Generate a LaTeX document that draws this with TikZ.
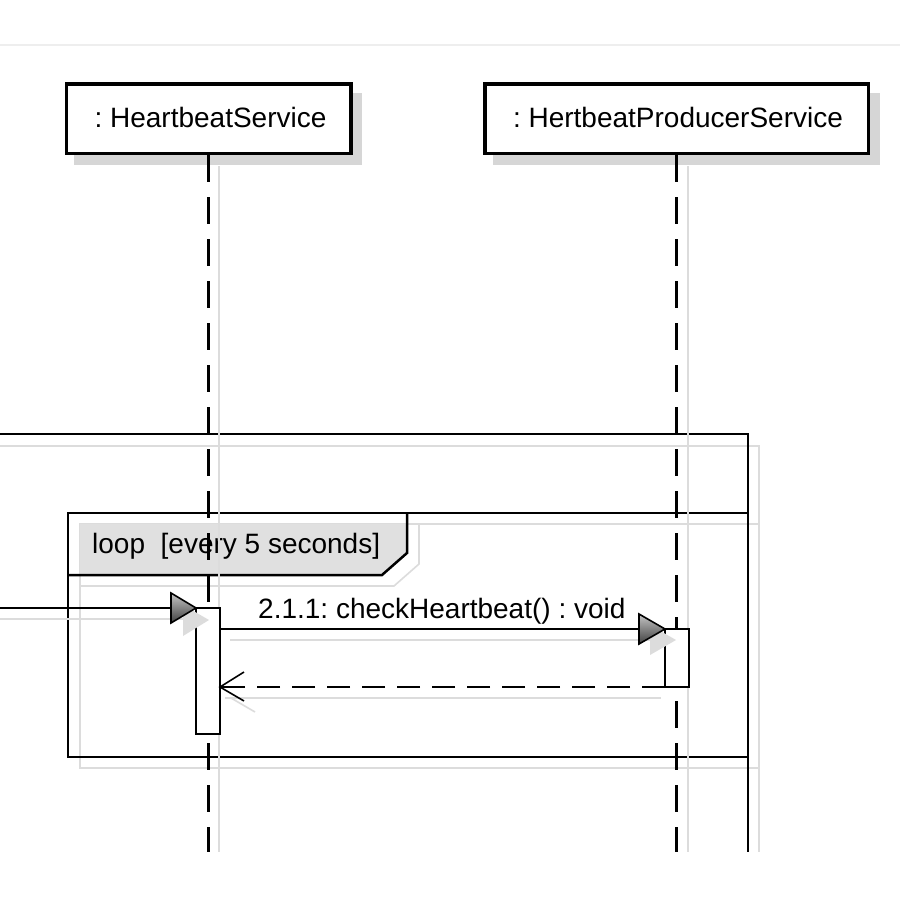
\documentclass[tikz,border=0pt]{standalone}
\usepackage{fontspec}
\setmainfont{Liberation Sans}
\definecolor{shadowgray}{HTML}{D6D6D6}
\definecolor{thinshadow}{HTML}{DCDCDC}
\definecolor{hdrgray}{HTML}{E0E0E0}
\definecolor{sepgray}{HTML}{EEEEEE}
\tikzset{
  lbl/.style={font=\fontsize{28}{34}\selectfont\frenchspacing, inner sep=0pt, anchor=base west},
  objbox/.style={draw=black, line width=3.5pt, fill=white, font=\fontsize{28}{34}\selectfont\frenchspacing, inner sep=0pt},
  objshadow/.style={fill=shadowgray, draw=none},
  lifeline/.style={line width=2.5pt, dash pattern=on 27pt off 15pt},
  llshadow/.style={thinshadow, line width=1.6pt},
  frameline/.style={line width=2.5pt},
  fshadow/.style={thinshadow, line width=1.6pt},
  actbox/.style={draw=black, line width=2pt, fill=white, inner sep=0pt, outer sep=0pt, minimum width=24pt},
  msg/.style={line width=2.2pt},
  retmsg/.style={line width=2.2pt, dash pattern=on 23pt off 12pt},
  tipfill/.style={draw=black, line width=1.6pt, line join=miter, top color=gray!45, bottom color=black!75},
  tipshadow/.style={fill=thinshadow, draw=none},
  opentip/.style={line width=1.6pt},
}
\begin{document}
\begin{tikzpicture}[x=1pt,y=-1pt]
\useasboundingbox (0,0) rectangle (900,900);
\fill[white] (0,0) rectangle (900,900);
% top separator
\draw[sepgray, line width=2pt] (0,45) -- (900,45);

% object boxes
\fill[objshadow] (74,93) rectangle (362,165);
\fill[objshadow] (493,93) rectangle (880,165);
\node[objbox, minimum width=284.5pt, minimum height=69.5pt] (hs) at (208.5,118.5) {\raisebox{1.5pt}{\hspace*{4pt}: HeartbeatService}};
\node[objbox, minimum width=383.5pt, minimum height=69.5pt] (hp) at (676.5,118.5) {\raisebox{1.5pt}{\hspace*{3pt}: HertbeatProducerService}};

% frame shadows
\draw[fshadow] (0,446) -- (759,446) -- (759,852);
\draw[fshadow] (80,524) rectangle (759,768);
\draw[fshadow] (80,586) -- (394,586) -- (419,564) -- (419,524);

% frames
\draw[frameline] (0,434) -- (748,434) -- (748,852);
\draw[frameline] (68,513) rectangle (748,757);

% loop header
\begin{scope}
  \clip (68,513) -- (407,513) -- (407,553) -- (382,575) -- (68,575) -- cycle;
  \fill[hdrgray] (80,524) -- (419,524) -- (419,564) -- (394,586) -- (80,586) -- cycle;
\end{scope}
\draw[frameline, line join=miter] (68,575) -- (382,575) -- (407,553) -- (407,513);
\node[lbl] (looplbl) at (92,553) {loop\ \ [every 5 seconds]};

% lifelines
\coordinate (hsend) at (208.5,852);
\coordinate (hpend) at (676.5,852);
\draw[llshadow] ([xshift=10.5pt,yshift=-11pt]hs.south) -- ([xshift=10.5pt]hsend);
\draw[llshadow] ([xshift=11.5pt,yshift=-11pt]hp.south) -- ([xshift=11.5pt]hpend);
\draw[lifeline] (hs.south) -- (hsend);
\draw[lifeline] (hp.south) -- (hpend);

% activations
\node[actbox, minimum height=126pt] (a1) at (208,671) {};
\node[actbox, minimum height=58pt] (a2) at (677,658) {};

% incoming message
\coordinate (in0) at (0,0 |- a1.north west);
\draw[llshadow] ([yshift=-11pt]in0) -- (183,619);
\fill[tipshadow] (183,605) -- (209,620) -- (183,636) -- cycle;
\draw[msg] (in0) -- (a1.north west);
\shadedraw[tipfill] (a1.north west) -- ++(-25,-15) -- ++(0,30) -- cycle;

% message 2.1.1
\coordinate (m1s) at (a1.east |- a2.north);
\draw[llshadow] ([xshift=10pt,yshift=-11pt]m1s) -- (650,640);
\fill[tipshadow] (650,625) -- (676,640) -- (650,655) -- cycle;
\draw[msg] (m1s) -- (a2.north west);
\shadedraw[tipfill] (a2.north west) -- ++(-26,-15) -- ++(0,30) -- cycle;
\node[lbl] (m1lbl) at (258,618) {2.1.1: checkHeartbeat() : void};

% return message
\coordinate (r1e) at (a1.east |- a2.south);
\draw[llshadow] ([xshift=5pt,yshift=-11pt]r1e) -- ([xshift=-4pt,yshift=-11pt]a2.south west);
\draw[thinshadow, line width=1.6pt] ([xshift=11pt,yshift=-11pt]r1e) -- ++(24,14);
\draw[retmsg] (a2.south west) -- (r1e);
\draw[opentip] ([xshift=24pt,yshift=-14pt]r1e) -- (r1e) -- ([xshift=24pt,yshift=15pt]r1e);
\end{tikzpicture}
\end{document}
